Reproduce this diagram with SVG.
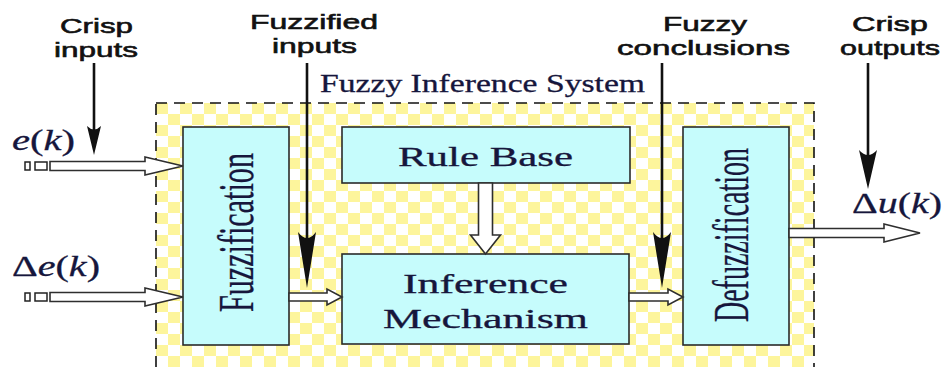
<svg xmlns="http://www.w3.org/2000/svg" width="944" height="367" viewBox="0 0 944 367">
<defs>
<pattern id="chk" x="156" y="103" width="24" height="22" patternUnits="userSpaceOnUse">
<rect width="24" height="22" fill="#ffffff"/>
<rect x="0" y="0" width="12" height="11" fill="#fdf59c"/>
<rect x="12" y="11" width="12" height="11" fill="#fdf59c"/>
</pattern>
<style>
.box{fill:#c6fcfc;stroke:#2a2a2a;stroke-width:1.6}
.lbl{font-family:"Liberation Sans",Arial,sans-serif;font-size:21px;fill:#111;stroke:#111;stroke-width:0.6;text-anchor:start}
.ser{font-family:"Liberation Serif","Times New Roman",serif;fill:#16163c;stroke:#16163c;stroke-width:0.3}
.hol{fill:#ffffff;stroke:#2e2e2e;stroke-width:1.6;stroke-linejoin:miter}
.vline{stroke:#111;stroke-width:2.6;fill:none}
.head{fill:#111;stroke:none}
.sq{fill:#fff;stroke:#222;stroke-width:1.5}
</style>
</defs>
<rect width="944" height="367" fill="#ffffff"/>

<g id="system">
<rect x="156" y="103" width="658" height="275" fill="url(#chk)" stroke="#111" stroke-width="1.6" stroke-dasharray="11 7"/>
<text class="ser" x="320" y="92" font-size="25" textLength="325" lengthAdjust="spacingAndGlyphs">Fuzzy Inference System</text>
</g>

<g id="fuzzification">
<rect class="box" x="183" y="127" width="106" height="218"/>
<text class="ser" transform="translate(253,312) rotate(-90)" x="0" y="0" font-size="50" textLength="159" lengthAdjust="spacingAndGlyphs">Fuzzification</text>
</g>

<g id="rulebase">
<rect class="box" x="342" y="127" width="288" height="56"/>
<text class="ser" x="398" y="166" font-size="27" textLength="175" lengthAdjust="spacingAndGlyphs">Rule Base</text>
</g>

<g id="inference">
<rect class="box" x="342" y="254" width="287" height="90"/>
<text class="ser" x="403" y="293" font-size="27" textLength="165" lengthAdjust="spacingAndGlyphs">Inference</text>
<text class="ser" x="383" y="328" font-size="27" textLength="205" lengthAdjust="spacingAndGlyphs">Mechanism</text>
</g>

<g id="defuzzification">
<rect class="box" x="683" y="127" width="106" height="218"/>
<text class="ser" transform="translate(748,322) rotate(-90)" x="0" y="0" font-size="50" textLength="174" lengthAdjust="spacingAndGlyphs">Defuzzification</text>
</g>

<g id="labels">
<text class="lbl" x="60" y="33" textLength="73" lengthAdjust="spacingAndGlyphs">Crisp</text>
<text class="lbl" x="54" y="57" textLength="84" lengthAdjust="spacingAndGlyphs">inputs</text>
<text class="lbl" x="250" y="29" textLength="128" lengthAdjust="spacingAndGlyphs">Fuzzified</text>
<text class="lbl" x="272" y="53" textLength="85" lengthAdjust="spacingAndGlyphs">inputs</text>
<text class="lbl" x="663" y="31" textLength="84" lengthAdjust="spacingAndGlyphs">Fuzzy</text>
<text class="lbl" x="617" y="55" textLength="173" lengthAdjust="spacingAndGlyphs">conclusions</text>
<text class="lbl" x="852" y="31" textLength="76" lengthAdjust="spacingAndGlyphs">Crisp</text>
<text class="lbl" x="840" y="55" textLength="100" lengthAdjust="spacingAndGlyphs">outputs</text>
<text class="ser" x="12" y="150" font-size="30" textLength="63" lengthAdjust="spacingAndGlyphs"><tspan font-style="italic">e</tspan>(<tspan font-style="italic">k</tspan>)</text>
<text class="ser" x="12" y="276" font-size="30" textLength="88" lengthAdjust="spacingAndGlyphs">Δ<tspan font-style="italic">e</tspan>(<tspan font-style="italic">k</tspan>)</text>
<text class="ser" x="852" y="213" font-size="30" textLength="90" lengthAdjust="spacingAndGlyphs">Δ<tspan font-style="italic">u</tspan>(<tspan font-style="italic">k</tspan>)</text>
</g>

<g id="connectors">
<rect class="sq" x="25" y="162" width="5" height="8"/>
<rect class="sq" x="35" y="162" width="12" height="8"/>
<rect class="sq" x="25" y="293" width="5" height="8"/>
<rect class="sq" x="35" y="293" width="12" height="8"/>
<polygon class="hol" points="50,161.5 145,161.5 145,157 183,166 145,175 145,170.5 50,170.5"/>
<polygon class="hol" points="50,292.5 145,292.5 145,288 183,297 145,306 145,301.5 50,301.5"/>
<polygon class="hol" points="289,293 327,293 327,289 342,297 327,305 327,301 289,301"/>
<polygon class="hol" points="629,293 668,293 668,289 683,297 668,305 668,301 629,301"/>
<polygon class="hol" points="789,228.5 884,228.5 884,224 920,233 884,242 884,237.5 789,237.5"/>
<polygon class="hol" points="478.5,183 492.5,183 492.5,235 500.5,235 485.5,254 470.5,235 478.5,235"/>
<line class="vline" x1="94" y1="63" x2="94" y2="138"/>
<path class="head" d="M94,155 L87,126 Q94,133 101,126 Z"/>
<line class="vline" x1="307" y1="63" x2="307" y2="250"/>
<path class="head" d="M307,288 L298,232 Q307,244 316,232 Z"/>
<line class="vline" x1="662" y1="63" x2="662" y2="250"/>
<path class="head" d="M662,288 L653,232 Q662,244 671,232 Z"/>
<line class="vline" x1="868" y1="63" x2="868" y2="165"/>
<path class="head" d="M868,189 L859,150 Q868,160 877,150 Z"/>
</g>
</svg>
